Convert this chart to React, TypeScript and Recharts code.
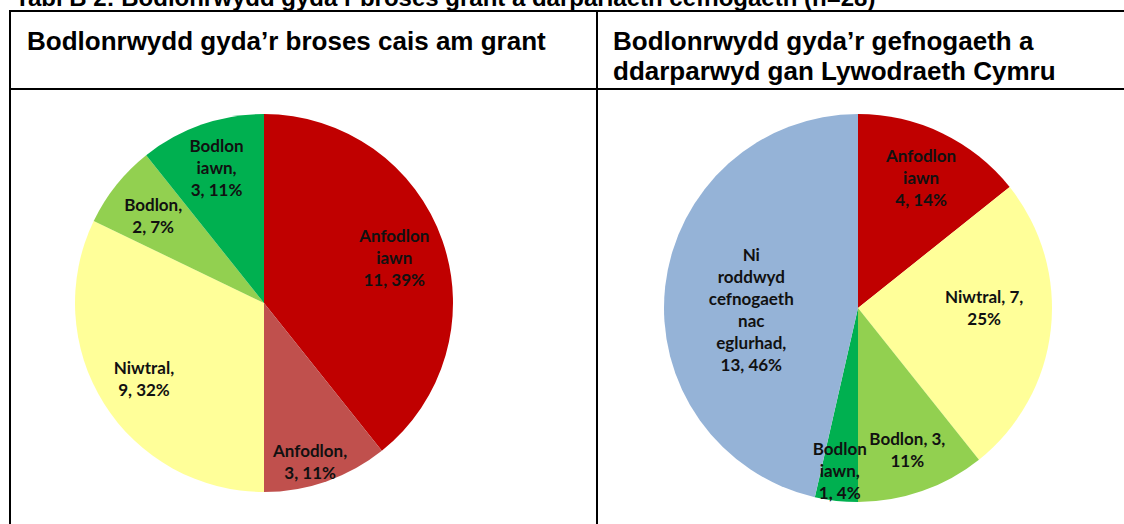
import React from "react";
import { PieChart, Pie, Cell } from "recharts";

// ---- Data ----
const categories1 = ["Anfodlon iawn", "Anfodlon", "Niwtral", "Bodlon", "Bodlon iawn"];
const values1 = [11, 3, 9, 2, 3];
const labelPrefix1 = ["Anfodlon iawn", "Anfodlon,", "Niwtral,", "Bodlon,", "Bodlon iawn,"];
const lineWords1 = [[1, 1, 2], [1, 2], [1, 2], [1, 2], [1, 1, 2]];

const categories2 = ["Anfodlon iawn", "Niwtral", "Bodlon", "Bodlon iawn", "Ni roddwyd cefnogaeth nac eglurhad"];
const values2 = [4, 7, 3, 1, 13];
const labelPrefix2 = ["Anfodlon iawn", "Niwtral,", "Bodlon,", "Bodlon iawn,", "Ni roddwyd cefnogaeth nac eglurhad,"];
const lineWords2 = [[1, 1, 2], [2, 1], [2, 1], [1, 1, 2], [1, 1, 1, 1, 1, 2]];

const titleText = "Tabl B 2: Bodlonrwydd gyda\u2019r broses grant a darpariaeth cefnogaeth (n=28)";
const header1 = ["Bodlonrwydd gyda\u2019r broses cais am grant"];
const header2 = ["Bodlonrwydd gyda\u2019r gefnogaeth a", "ddarparwyd gan Lywodraeth Cymru"];

// ---- Styling / layout ----
const colorMap: Record<string, string> = {
  "Anfodlon iawn": "#C00000",
  Anfodlon: "#C0504D",
  Niwtral: "#FFFF99",
  Bodlon: "#92D050",
  "Bodlon iawn": "#00B050",
  "Ni roddwyd cefnogaeth nac eglurhad": "#95B3D7",
};
const labelRadius1 = [0.73, 0.87, 0.75, 0.75, 0.76];
const labelShift1 = [0, 3, 0, 0, 0];
const labelRadius2 = [0.75, 0.65, 0.77, 0.84, 0.55];
const labelShift2 = [0, -7, 0, 0, -7];

const data1 = categories1.map((name, i) => ({ name, value: values1[i] }));
const data2 = categories2.map((name, i) => ({ name, value: values2[i] }));

const RAD = Math.PI / 180;
const LINE_H = 22;

function makeLabel(prefixes: string[], lineWords: number[][], radii: number[], shifts: number[]) {
  return (props: any) => {
    const { cx, cy, midAngle, outerRadius, index, value, percent } = props;
    const full = `${prefixes[index]} ${value}, ${Math.round(percent * 100)}%`;
    const tokens = full.split(" ");
    const lines: string[] = [];
    let p = 0;
    for (const n of lineWords[index]) {
      lines.push(tokens.slice(p, p + n).join(" "));
      p += n;
    }
    const ang = midAngle - shifts[index];
    const r = outerRadius * radii[index];
    const x = cx + r * Math.cos(-ang * RAD);
    const y = cy + r * Math.sin(-ang * RAD);
    const y0 = y - ((lines.length - 1) / 2) * LINE_H;
    return (
      <text
        key={`lbl-${index}`}
        x={x}
        y={y0}
        textAnchor="middle"
        dominantBaseline="central"
        fontFamily="Lato, 'Open Sans', sans-serif"
        fontWeight={700}
        fontSize={17}
        fill="#111"
      >
        {lines.map((l, i) => (
          <tspan key={i} x={x} y={y0 + i * LINE_H} dominantBaseline="central">
            {l}
          </tspan>
        ))}
      </text>
    );
  };
}

export default function App() {
  return (
    <div
      style={{
        position: "absolute",
        left: 0,
        top: 0,
        width: 1124,
        height: 524,
        overflow: "hidden",
        background: "#fff",
      }}
    >
      <svg
        width={1124}
        height={524}
        style={{ position: "absolute", left: 0, top: 0 }}
        fontFamily="'Liberation Sans', Arial, sans-serif"
      >
        <text x={15} y={6} fontSize={24} fontWeight={700} fill="#000">
          {titleText}
        </text>
        {/* table borders */}
        <rect x={9} y={10} width={2} height={514} fill="#000" />
        <rect x={9} y={10} width={1115} height={2} fill="#000" />
        <rect x={9} y={88} width={1115} height={2} fill="#000" />
        <rect x={596} y={10} width={2} height={514} fill="#000" />
        {header1.map((t, i) => (
          <text key={i} x={27} y={50 + i * 30} fontSize={26} fontWeight={700} fill="#000">
            {t}
          </text>
        ))}
        {header2.map((t, i) => (
          <text key={i} x={613} y={50 + i * 30} fontSize={26} fontWeight={700} fill="#000">
            {t}
          </text>
        ))}
      </svg>
      <div style={{ position: "absolute", left: 0, top: 0 }}>
        <PieChart width={1124} height={524} margin={{ top: 0, right: 0, bottom: 0, left: 0 }}>
          <Pie
            data={data1}
            dataKey="value"
            nameKey="name"
            cx={264}
            cy={303}
            outerRadius={189}
            startAngle={90}
            endAngle={-270}
            stroke="none"
            isAnimationActive={false}
            labelLine={false}
            label={makeLabel(labelPrefix1, lineWords1, labelRadius1, labelShift1)}
          >
            {data1.map((d, i) => (
              <Cell key={i} fill={colorMap[d.name]} />
            ))}
          </Pie>
          <Pie
            data={data2}
            dataKey="value"
            nameKey="name"
            cx={858}
            cy={308}
            outerRadius={194}
            startAngle={90}
            endAngle={-270}
            stroke="none"
            isAnimationActive={false}
            labelLine={false}
            label={makeLabel(labelPrefix2, lineWords2, labelRadius2, labelShift2)}
          >
            {data2.map((d, i) => (
              <Cell key={i} fill={colorMap[d.name]} />
            ))}
          </Pie>
        </PieChart>
      </div>
    </div>
  );
}
